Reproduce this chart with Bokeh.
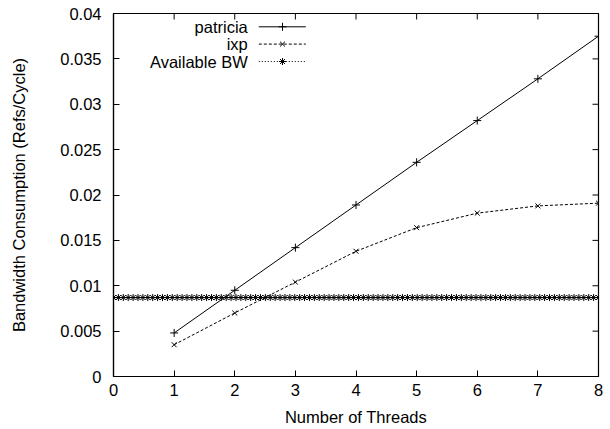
import numpy as np
from bokeh.plotting import figure
from bokeh.models import Range1d, FixedTicker, CustomJSTickFormatter, Label
from bokeh.embed import file_html
from bokeh.resources import INLINE

# ---- data ----
threads = [1, 2, 3, 4, 5, 6, 7, 8]
patricia = [0.0048, 0.0095, 0.0142, 0.0189, 0.0236, 0.0282, 0.0328, 0.0375]
ixp = [0.0035, 0.0070, 0.0104, 0.0138, 0.0164, 0.0180, 0.0188, 0.0191]
available_bw = 0.0087
bw_samples = 100
x_ticks = [0, 1, 2, 3, 4, 5, 6, 7, 8]
y_ticks = [0, 0.005, 0.01, 0.015, 0.02, 0.025, 0.03, 0.035, 0.04]
legend_names = ["patricia", "ixp", "Available BW"]

FONT = "Liberation Sans"
FS = "16.5px"
FW, FH = 485, 363
XMAX, YMAX = 8, 0.04

p = figure(frame_width=FW, frame_height=FH, output_backend="svg",
           toolbar_location=None, x_range=Range1d(0, XMAX), y_range=Range1d(0, YMAX),
           min_border_left=113, min_border_right=10, min_border_top=13, min_border_bottom=47)
p.grid.visible = False
p.outline_line_color = "black"
p.outline_line_width = 1.2
p.background_fill_color = "white"
p.border_fill_color = "white"

fmt = CustomJSTickFormatter(code="return String(parseFloat(tick.toFixed(4)));")

p.xaxis.ticker = FixedTicker(ticks=x_ticks)
p.yaxis.ticker = FixedTicker(ticks=y_ticks)
p.yaxis.formatter = fmt

for ax in list(p.xaxis) + list(p.yaxis):
    ax.major_tick_in = 6
    ax.major_tick_out = 0
    ax.minor_tick_line_color = None
    ax.axis_line_color = "black"
    ax.axis_line_width = 1.2
    ax.major_tick_line_color = "black"
    ax.major_label_text_font = FONT
    ax.major_label_text_font_size = FS
    ax.major_label_text_color = "black"
    ax.axis_label_text_font = FONT
    ax.axis_label_text_font_size = FS
    ax.axis_label_text_font_style = "normal"
    ax.axis_label_text_color = "black"

p.xaxis.axis_label = "Number of Threads"
p.xaxis.major_label_standoff = 7
p.xaxis.axis_label_standoff = 9
p.yaxis.axis_label = "Bandwidth Consumption (Refs/Cycle)"
p.yaxis.major_label_standoff = 12
p.yaxis.axis_label_standoff = 29

# mirrored ticks on top and right (6 px long, inward)
tick_dy = 6 * YMAX / FH
tick_dx = 6 * XMAX / FW
p.segment(x0=x_ticks, y0=[YMAX] * len(x_ticks), x1=x_ticks, y1=[YMAX - tick_dy] * len(x_ticks),
          line_color="black", line_width=1)
p.segment(x0=[XMAX] * len(y_ticks), y0=y_ticks, x1=[XMAX - tick_dx] * len(y_ticks), y1=y_ticks,
          line_color="black", line_width=1)

# data
p.line(threads, patricia, line_color="black", line_width=1)
p.scatter(threads, patricia, marker="cross", size=8, line_color="black", line_width=1)

p.line(threads, ixp, line_color="black", line_width=1, line_dash="3 2")
p.scatter(threads, ixp, marker="x", size=7, line_color="black", line_width=1)

bw_x = np.linspace(0, XMAX, bw_samples)
bw_y = np.full(bw_samples, available_bw)
p.line(bw_x, bw_y, line_color="black", line_width=1, line_dash="1 2")
p.scatter(bw_x, bw_y, marker="asterisk", size=7, line_color="black", line_width=1)

# legend (text right-aligned, sample to the right) in frame fractions
def fx(f):
    return XMAX * f

def fy(f):
    return YMAX * f

rows_fy = [1 - 13.3 / FH, 1 - 30.6 / FH, 1 - 48.0 / FH]
text_fx = 134.3 / FW
l0, l1, lm = 145.3 / FW, 192.3 / FW, 169.0 / FW
styles = [("solid", "cross", 8), ("3 2", "x", 7), ("1 2", "asterisk", 7)]
for name, r, (dash, mk, sz) in zip(legend_names, rows_fy, styles):
    p.add_layout(Label(x=fx(text_fx), y=fy(r), text=name, text_align="right",
                       text_baseline="middle", text_font=FONT, text_font_size=FS,
                       text_color="black"))
    p.line([fx(l0), fx(l1)], [fy(r), fy(r)], line_color="black", line_width=1, line_dash=dash)
    p.scatter([fx(lm)], [fy(r)], marker=mk, size=sz, line_color="black", line_width=1)

open("out.html", "w").write(file_html(p, INLINE))
